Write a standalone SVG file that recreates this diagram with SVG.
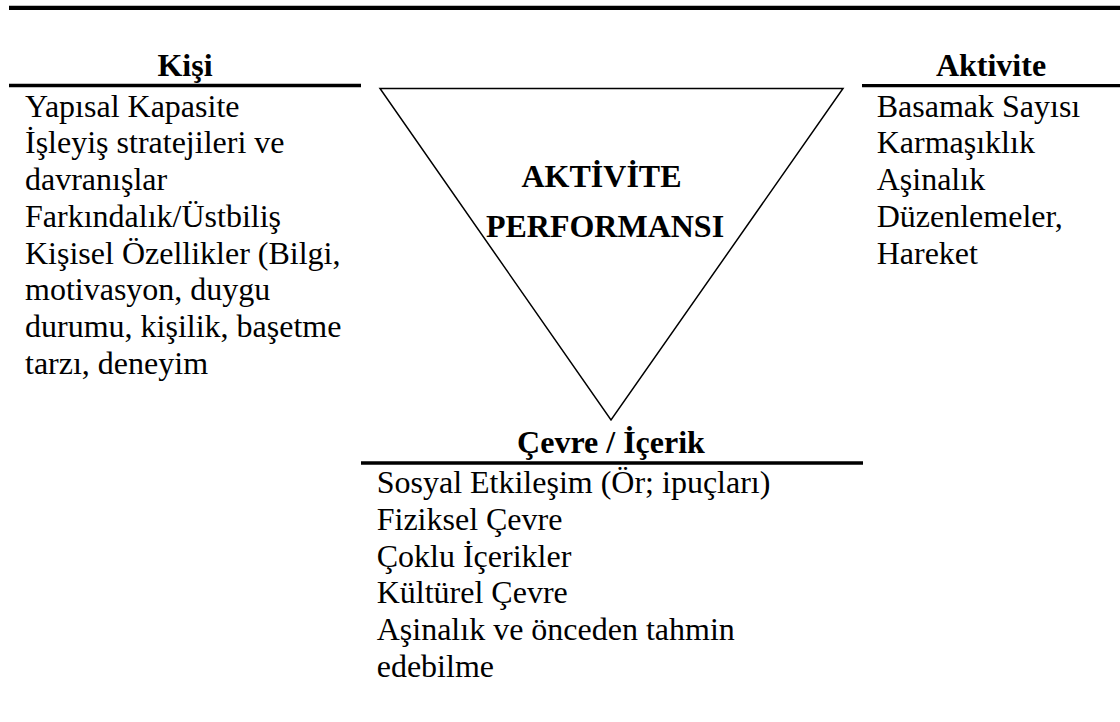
<svg xmlns="http://www.w3.org/2000/svg" width="1120" height="722" viewBox="0 0 1120 722">
<style>
.rule{stroke:#000;stroke-width:3.3;fill:none}
.h{font-family:'Liberation Serif','Times New Roman',serif;font-weight:bold;font-size:32px;fill:#000;text-anchor:middle}
.t{font-family:'Liberation Serif','Times New Roman',serif;font-size:32px;fill:#000}
</style>
<rect width="1120" height="722" fill="#fff"/>
<line x1="9" y1="7.8" x2="1120" y2="7.8" stroke="#000" stroke-width="4.3"/>
<g id="center">
<polygon points="380,88.5 843,88.5 611,420" fill="none" stroke="#000" stroke-width="1.5"/>
<text class="h" x="601.5" y="187">AKTİVİTE</text>
<text class="h" x="605" y="236.7">PERFORMANSI</text>
</g>
<g id="kisi">
<text class="h" x="185" y="76">Kişi</text>
<line class="rule" x1="9" y1="85.5" x2="361" y2="85.5"/>
<text class="t" x="25" y="116.7">Yapısal Kapasite</text>
<text class="t" x="25" y="153.4">İşleyiş stratejileri ve</text>
<text class="t" x="25" y="190.1">davranışlar</text>
<text class="t" x="25" y="226.8">Farkındalık/Üstbiliş</text>
<text class="t" x="25" y="263.5">Kişisel Özellikler (Bilgi,</text>
<text class="t" x="25" y="300.2">motivasyon, duygu</text>
<text class="t" x="25" y="336.9">durumu, kişilik, başetme</text>
<text class="t" x="25" y="373.6">tarzı, deneyim</text>
</g>
<g id="aktivite">
<text class="h" x="991" y="76">Aktivite</text>
<line class="rule" x1="862" y1="85.7" x2="1120" y2="85.7"/>
<text class="t" x="876.7" y="116.7">Basamak Sayısı</text>
<text class="t" x="876.7" y="153.4">Karmaşıklık</text>
<text class="t" x="876.7" y="190.1">Aşinalık</text>
<text class="t" x="876.7" y="226.8">Düzenlemeler,</text>
<text class="t" x="876.7" y="263.5">Hareket</text>
</g>
<g id="cevre">
<text class="h" x="611" y="453">Çevre / İçerik</text>
<line class="rule" x1="361" y1="463" x2="863" y2="463"/>
<text class="t" x="376.7" y="493.3">Sosyal Etkileşim (Ör; ipuçları)</text>
<text class="t" x="376.7" y="530">Fiziksel Çevre</text>
<text class="t" x="376.7" y="566.7">Çoklu İçerikler</text>
<text class="t" x="376.7" y="603.4">Kültürel Çevre</text>
<text class="t" x="376.7" y="640.1">Aşinalık ve önceden tahmin</text>
<text class="t" x="376.7" y="676.8">edebilme</text>
</g>
<g id="connectors"></g>
</svg>
